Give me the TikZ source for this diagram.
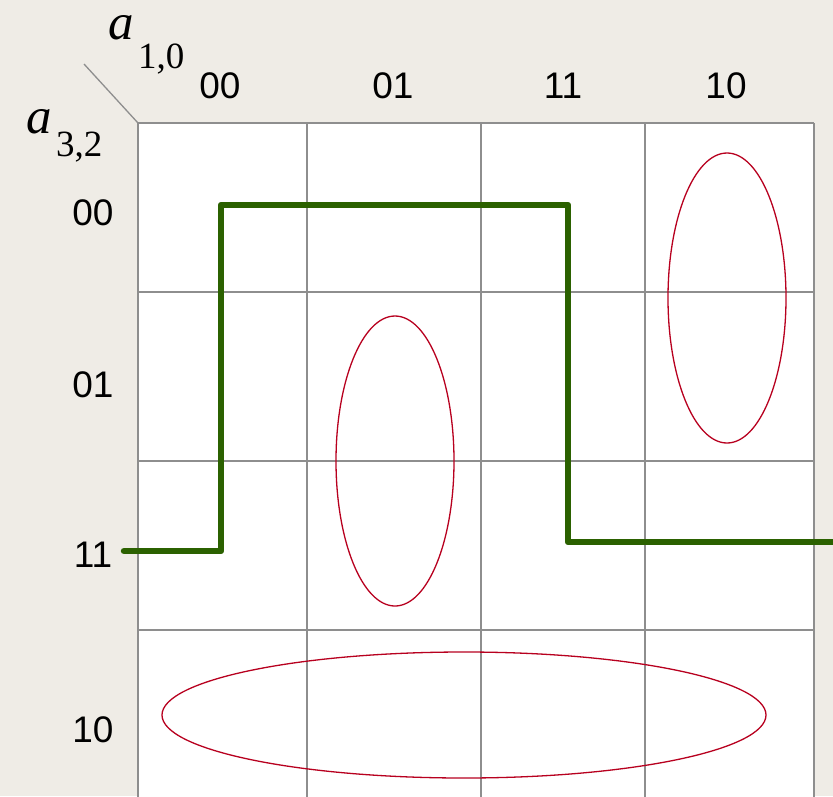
\documentclass[tikz,border=0pt]{standalone}
\usepackage{fontspec}
\setmainfont{Liberation Sans}
\newfontfamily\serifit{Liberation Serif}
\definecolor{paper}{HTML}{EFECE6}
\definecolor{gridgray}{HTML}{8E8E8E}
\definecolor{kgreen}{HTML}{2B6100}
\definecolor{kred}{HTML}{B8001F}
\begin{document}
\begin{tikzpicture}[x=1pt,y=-1pt,
  gridline/.style={draw=gridgray,line width=1.8pt},
  lbl/.style={font=\fontsize{37}{40}\selectfont,anchor=base,inner sep=0pt},
  var/.style={font=\serifit\fontsize{51}{53}\selectfont\itshape,anchor=base west,inner sep=0pt,text height=0.47em},
  sub/.style={font=\serifit\fontsize{37}{40}\selectfont,anchor=base west,inner sep=0pt},
  loop/.style={draw=kred,line width=1.3pt},
  pathline/.style={draw=kgreen,line width=6.5pt,line cap=round,line join=round}]
\fill[paper] (0,0) rectangle (833,796);
\useasboundingbox (0,0) rectangle (833,796);
% grid
\fill[white] (138,123) rectangle (814,800);
\foreach \x in {138,307,481,645,814} \draw[gridline] (\x,123) -- (\x,800);
\foreach \y in {123,292,461,630} \draw[gridline] (138,\y) -- (814,\y);
\draw[gridline,line width=1.3pt] (84,64) -- (138,123);
% variable labels
\node[var] (a10) at (108,39) {a};
\node[sub] (s10) at (138,68) {1,0};
\node[var] (a32) at (26,133) {a};
\node[sub] (s32) at (56,156) {3,2};
% column headers
\node[lbl] (c00) at (220,98) {00};
\node[lbl] (c01) at (393,98) {01};
\node[lbl] (c11) at (563,98) {11};
\node[lbl] (c10) at (726,98) {10};
% row headers
\node[lbl] (r00) at (93,225) {00};
\node[lbl] (r01) at (93,397) {01};
\node[lbl] (r11) at (93,567) {11};
\node[lbl] (r10) at (93,742) {10};
% loops
\draw[loop] (727,298) ellipse [x radius=59, y radius=145];
\draw[loop] (395,461) ellipse [x radius=59, y radius=145];
\draw[loop] (464,715) ellipse [x radius=302, y radius=63];
% green path
\coordinate (g0) at (124,551);
\coordinate (g1) at (221,551);
\coordinate (g2) at (221,205);
\coordinate (g3) at (568,205);
\coordinate (g4) at (568,542);
\coordinate (g5) at (840,542);
\draw[pathline] (g0) -- (g1) -- (g2) -- (g3) -- (g4) -- (g5);
\end{tikzpicture}
\end{document}
